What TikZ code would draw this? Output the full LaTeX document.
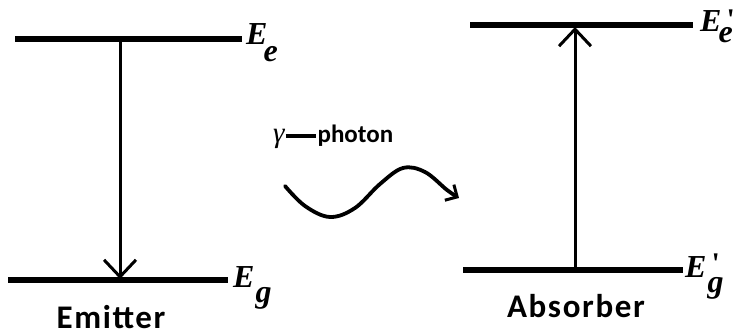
\documentclass[tikz,border=0pt]{standalone}
\usepackage{fontspec}
\setmainfont{Liberation Serif}
\newfontfamily\sansb{Carlito}[BoldFont={Carlito Bold}]
\newfontfamily\sansbsp{Carlito}[BoldFont={Carlito Bold},LetterSpace=5]
\usetikzlibrary{arrows.meta}
\tikzset{
  levelline/.style={line width=6.5pt},
  trans/.style={line width=3pt,-{Straight Barb[length=17pt,width=32pt,line width=3pt]}},
  lbl/.style={anchor=base west,inner sep=0pt,font=\fontsize{32}{34}\selectfont\bfseries\itshape},
  captxt/.style={anchor=base,font=\fontsize{33}{35}\selectfont\sansbsp\bfseries,inner sep=0pt},
}
\newcommand{\primemark}{{\fontsize{30}{30}\selectfont\upshape\bfseries\textquotesingle}}
\begin{document}
\begin{tikzpicture}[x=1pt,y=-1pt]
\useasboundingbox[fill=white] (0,0) rectangle (737,336);
% emitter
\coordinate (eTL) at (15,39);  \coordinate (eTR) at (242,39);
\coordinate (eBL) at (8,280);  \coordinate (eBR) at (228,280);
\draw[levelline] (eTL) -- (eTR);
\draw[levelline] (eBL) -- (eBR);
\coordinate (eTop) at (120,39); \coordinate (eBot) at (120,279);
\draw[trans] (eTop) -- (eBot);
\node[lbl] (Ee) at (246,45) {E\kern-4pt\raisebox{-17pt}{e}};
\node[lbl] (Eg) at (233,288) {E\kern1pt\raisebox{-15pt}{g}};
\node[captxt] (em) at (111,329) {Emitter};
% absorber
\coordinate (aTL) at (470,25);  \coordinate (aTR) at (693,25);
\coordinate (aBL) at (463,270); \coordinate (aBR) at (683,270);
\draw[levelline] (aTL) -- (aTR);
\draw[levelline] (aBL) -- (aBR);
\coordinate (aBot) at (575,270); \coordinate (aTop) at (575,27);
\draw[trans] (aBot) -- (aTop);
\node[lbl] (Ee2) at (700,32) {E\rlap{\kern5pt\raisebox{2pt}{\primemark}}\kern-3pt\raisebox{-11pt}{e}};
\node[lbl] (Eg2) at (685,278) {E\rlap{\kern5pt\raisebox{4pt}{\primemark}}\kern1pt\raisebox{-15pt}{g}};
\node[captxt] (ab) at (576,318) {Absorber};
% photon
\node[anchor=base west,font=\fontsize{25}{27}\selectfont\sansb\bfseries,inner sep=0pt] (ph) at (273,143)
  {{\fontsize{29}{30}\selectfont\mdseries\itshape\rmfamily γ}\kern1pt\rule[5pt]{30pt}{3.5pt}\kern2pt photon};
\draw[line width=3.8pt,line cap=round,-{Straight Barb[length=9pt,width=18pt,line width=3pt]}]
  plot[smooth,tension=0.6] coordinates {(285,186) (305,206) (330,217) (355,208) (380,184) (403,168) (425,172) (447,190) (459,198)};
\end{tikzpicture}
\end{document}
